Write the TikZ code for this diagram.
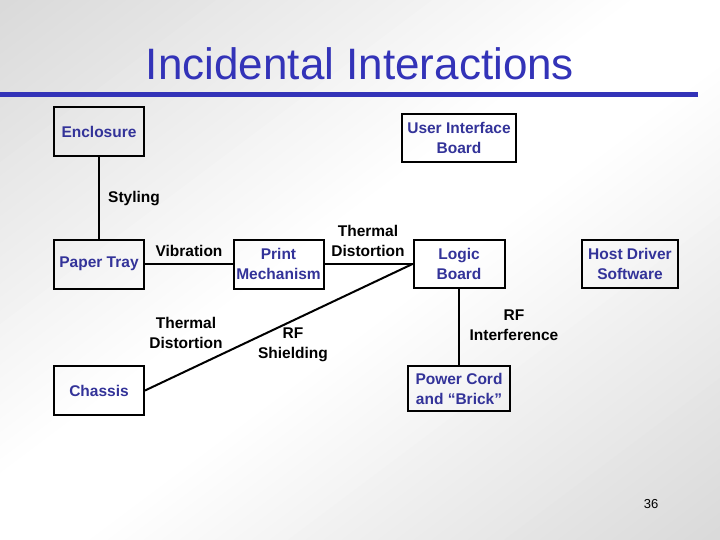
\documentclass[tikz,border=0pt]{standalone}
\usepackage{fontspec}
\setmainfont{Liberation Sans}
\definecolor{titleblue}{HTML}{3333B8}
\definecolor{boxblue}{HTML}{333399}
\definecolor{bggray}{HTML}{D9D9D9}
\tikzset{
  box/.style={draw=black, line width=2pt, inner sep=0pt, align=center,
    text=boxblue, font=\fontsize{15.5}{20}\selectfont\bfseries},
  lbl/.style={inner sep=0pt, align=center, text=black,
    font=\fontsize{15.5}{20}\selectfont\bfseries},
  conn/.style={line width=2pt, black},
}
\begin{document}
\begin{tikzpicture}[x=1pt,y=-1pt]
\useasboundingbox (0,0) rectangle (720,540);
\begin{scope}
\clip (0,0) rectangle (720,540);
\foreach \i in {0,...,79} {
  \pgfmathsetmacro\sa{\i/40}
  \pgfmathsetmacro\sb{(\i+1.4)/40}
  \pgfmathsetmacro\sm{(\i+0.5)/40}
  \pgfmathsetmacro\w{max(0,min(100,(abs(\sm-1)-0.12)/0.88*100))}
  \fill[bggray!\w!white] (720*\sa,0) -- (720*\sb,0) -- (0,540*\sb) -- (0,540*\sa) -- cycle;
}
\end{scope}
\node[text=titleblue, font=\fontsize{44}{50}\selectfont, inner sep=0pt] (title) at (360,64) {Incidental Interactions};
\fill[titleblue] (0,92.5) rectangle (698,97.5);
\node[box, minimum width=90pt, minimum height=49pt] (enc) at (99,131.5) {Enclosure};
\node[box, minimum width=114pt, minimum height=48pt] (uib) at (459,138) {User Interface\\Board};
\node[box, minimum width=90pt, minimum height=49pt] (pt) at (99,264) {Paper Tray};
\node[box, minimum width=90pt, minimum height=49pt] (pm) at (278.5,264) {Print\\Mechanism};
\node[box, minimum width=91pt, minimum height=48pt] (lb) at (459,264) {Logic\\Board};
\node[box, minimum width=96pt, minimum height=48pt] (hds) at (630,264) {Host Driver\\Software};
\node[box, minimum width=90pt, minimum height=49pt] (ch) at (99,390.5) {Chassis};
\node[box, minimum width=102pt, minimum height=45pt] (pc) at (459,388.5) {Power Cord\\and “Brick”};
\draw[conn] (enc.south) -- (pt.north);
\draw[conn] (pt.east) -- (pm.west);
\draw[conn] (pm.east) -- (lb.west);
\draw[conn] (ch.east) -- (lb.west);
\draw[conn] (lb.south) -- (pc.north);
\node[lbl] (l1) at (134,199) {Styling};
\node[lbl] (l2) at (189,251) {Vibration};
\node[lbl] (l3) at (368,241) {Thermal\\Distortion};
\node[lbl] (l4) at (186,333) {Thermal\\Distortion};
\node[lbl] (l5) at (293,345) {RF\\Shielding};
\node[lbl] (l6) at (514,325) {RF\\Interference};
\node[inner sep=0pt, font=\fontsize{13}{15}\selectfont] (pg) at (651,504) {36};
\end{tikzpicture}
\end{document}
